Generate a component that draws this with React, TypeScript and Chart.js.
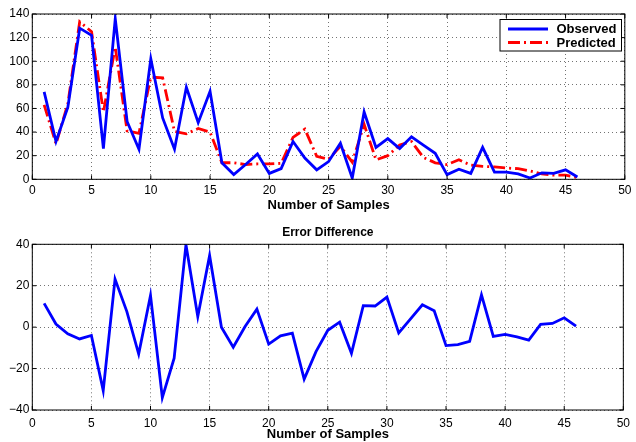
import React, { useEffect, useRef } from "react";
import { Chart, registerables } from "chart.js";
Chart.register(...registerables);

const samples = [1, 2, 3, 4, 5, 6, 7, 8, 9, 10, 11, 12, 13, 14, 15, 16, 17, 18, 19, 20, 21, 22, 23, 24, 25, 26, 27, 28, 29, 30, 31, 32, 33, 34, 35, 36, 37, 38, 39, 40, 41, 42, 43, 44, 45, 46];
const observed = [74, 32, 61, 128, 122, 26, 136, 49, 25.5, 102, 52, 25.5, 78, 48, 74.5, 14, 4, 12.5, 21.5, 5, 9, 32, 18, 8, 15, 30.5, 1, 57, 27, 34.5, 26, 36, 29, 22, 4, 8.5, 5, 27, 6, 6, 4.5, 1, 5.5, 5, 8, 2];
const predicted = [63, 30, 64, 133.5, 125, 57, 112, 41, 39, 86.5, 86, 40.5, 38.5, 43, 40, 14, 14, 12.5, 13, 13, 13.5, 35.5, 42.5, 19.5, 17, 28, 14.5, 46.5, 16.5, 20, 29, 32, 18.5, 14, 12.5, 16.5, 12, 11, 10.5, 9.5, 9, 7, 4.5, 3.5, 3.5, 1.5];
const errorDiff = [11.5, 1.5, -3.2, -5.7, -4, -30.6, 23.2, 7.5, -13, 15.3, -34, -15, 39.8, 5.1, 34.6, 0, -9.7, 0.3, 8.7, -8.2, -4.2, -2.9, -25.1, -11.8, -1.5, 2.4, -12.6, 10.4, 10.2, 14.5, -2.8, 4, 10.8, 7.9, -8.9, -8.4, -6.9, 15.6, -4.5, -3.5, -4.7, -6.3, 1.3, 1.8, 4.5, 0.5];

const xLabel = "Number of Samples";
const bottomTitle = "Error Difference";
const legendLabels = ["Observed", "Predicted"];

const TICK_FONT = { family: "'Liberation Sans', Arial, sans-serif", size: 12 };
const BOLD_FAMILY = "'Liberation Sans', Arial, sans-serif";

const pts = (ys: number[]) => samples.map((x, i) => ({ x, y: ys[i] }));

const framePlugin = {
  id: "frame",
  afterDatasetsDraw(chart: any) {
    const { ctx, chartArea, scales } = chart;
    const { left, right, top, bottom } = chartArea;
    ctx.save();
    ctx.strokeStyle = "#000";
    ctx.lineWidth = 1;
    ctx.setLineDash([]);
    const tl = 4;
    ctx.beginPath();
    scales.x.ticks.forEach((t: any) => {
      const px = scales.x.getPixelForValue(t.value);
      ctx.moveTo(px, bottom);
      ctx.lineTo(px, bottom - tl);
      ctx.moveTo(px, top);
      ctx.lineTo(px, top + tl);
    });
    scales.y.ticks.forEach((t: any) => {
      const py = scales.y.getPixelForValue(t.value);
      ctx.moveTo(left, py);
      ctx.lineTo(left + tl, py);
      ctx.moveTo(right, py);
      ctx.lineTo(right - tl, py);
    });
    ctx.stroke();
    ctx.strokeRect(left, top, right - left, bottom - top);
    ctx.restore();
  },
};

const legendPlugin = {
  id: "customLegend",
  afterDraw(chart: any) {
    const { ctx } = chart;
    const bx = 500, by = 19.5, bw = 121.5, bh = 31.5;
    ctx.save();
    ctx.fillStyle = "#fff";
    ctx.fillRect(bx, by, bw, bh);
    ctx.strokeStyle = "#000";
    ctx.lineWidth = 1;
    ctx.setLineDash([]);
    ctx.strokeRect(bx, by, bw, bh);
    const rows = [29, 42.5];
    const ds = chart.data.datasets;
    rows.forEach((ry, i) => {
      ctx.beginPath();
      ctx.strokeStyle = ds[i].borderColor;
      ctx.lineWidth = ds[i].borderWidth;
      ctx.setLineDash(ds[i].borderDash || []);
      ctx.moveTo(508, ry);
      ctx.lineTo(548, ry);
      ctx.stroke();
      ctx.setLineDash([]);
      ctx.fillStyle = "#000";
      ctx.font = `bold 13px ${BOLD_FAMILY}`;
      ctx.textBaseline = "middle";
      ctx.textAlign = "left";
      ctx.fillText(legendLabels[i], 556.5, ry + 0.5);
    });
    ctx.restore();
  },
};

const titlePlugin = {
  id: "customTitle",
  afterDraw(chart: any) {
    const { ctx, chartArea } = chart;
    ctx.save();
    ctx.fillStyle = "#000";
    ctx.font = `bold 12px ${BOLD_FAMILY}`;
    ctx.textAlign = "center";
    ctx.textBaseline = "middle";
    ctx.fillText(bottomTitle, (chartArea.left + chartArea.right) / 2, 11.5);
    ctx.restore();
  },
};

function makeScales(yMin: number, yMax: number, xHeight: number, tickPad: number, titlePadBottom: number) {
  return {
    x: {
      type: "linear" as const,
      min: 0,
      max: 50,
      ticks: { stepSize: 5, font: TICK_FONT, color: "#000", padding: tickPad, autoSkip: false, maxRotation: 0 },
      grid: { drawTicks: false, color: "rgba(0,0,0,0.55)", lineWidth: 1 },
      border: { display: false, dash: [1, 3] },
      title: {
        display: true,
        text: xLabel,
        color: "#000",
        font: { family: BOLD_FAMILY, size: 13, weight: "bold" as const },
        padding: { top: 0, bottom: titlePadBottom },
      },
      afterFit: (s: any) => {
        s.height = xHeight;
      },
    },
    y: {
      min: yMin,
      max: yMax,
      ticks: {
        stepSize: 20,
        font: TICK_FONT,
        color: "#000",
        padding: 3,
        callback: (v: any) => String(v).replace("-", "\u2212"),
      },
      grid: { drawTicks: false, color: "rgba(0,0,0,0.55)", lineWidth: 1 },
      border: { display: false, dash: [1, 3] },
      afterFit: (s: any) => {
        s.width = 32.3;
      },
    },
  };
}

export default function App() {
  const topRef = useRef<HTMLCanvasElement>(null);
  const botRef = useRef<HTMLCanvasElement>(null);

  useEffect(() => {
    const c1 = new Chart(topRef.current!, {
      type: "line",
      data: {
        datasets: [
          {
            label: legendLabels[0],
            data: pts(observed),
            borderColor: "#0000ff",
            borderWidth: 2.8,
            pointRadius: 0,
            tension: 0,
          },
          {
            label: legendLabels[1],
            data: pts(predicted),
            borderColor: "#ff0000",
            borderWidth: 2.8,
            borderDash: [12, 4, 2, 4],
            pointRadius: 0,
            tension: 0,
          },
        ],
      },
      options: {
        animation: false,
        responsive: false,
        devicePixelRatio: 1,
        layout: { padding: { top: 14, right: 7.5, left: 0, bottom: 0 } },
        plugins: { legend: { display: false }, tooltip: { enabled: false } },
        scales: makeScales(0, 140, 41.7, 4.5, 8.2) as any,
      },
      plugins: [framePlugin, legendPlugin],
    });

    const c2 = new Chart(botRef.current!, {
      type: "line",
      data: {
        datasets: [
          {
            label: bottomTitle,
            data: pts(errorDiff),
            borderColor: "#0000ff",
            borderWidth: 2.8,
            pointRadius: 0,
            tension: 0,
          },
        ],
      },
      options: {
        animation: false,
        responsive: false,
        devicePixelRatio: 1,
        layout: { padding: { top: 23.3, right: 7.5, left: 0, bottom: 0 } },
        plugins: { legend: { display: false }, tooltip: { enabled: false } },
        scales: makeScales(-40, 40, 32, 6, 0.2) as any,
      },
      plugins: [framePlugin, titlePlugin],
    });

    return () => {
      c1.destroy();
      c2.destroy();
    };
  }, []);

  return (
    <div style={{ position: "absolute", left: 0, top: 0, width: 636, height: 442, background: "#fff" }}>
      <canvas ref={topRef} width={636} height={221} style={{ position: "absolute", left: 0, top: 0, width: 636, height: 221 }} />
      <canvas ref={botRef} width={636} height={221} style={{ position: "absolute", left: 0, top: 221, width: 636, height: 221 }} />
    </div>
  );
}
